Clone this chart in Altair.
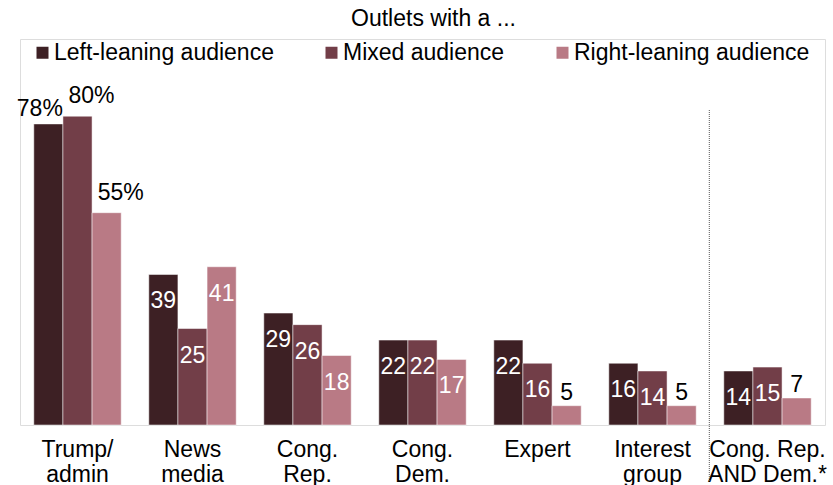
import json
import altair as alt
import pandas as pd

FONT = "Liberation Sans"

categories = ["Trump/admin", "News media", "Cong. Rep.", "Cong. Dem.", "Expert",
              "Interest group", "Cong. Rep. AND Dem.*"]
label_lines = [["Trump/", "admin"], ["News", "media"], ["Cong.", "Rep."], ["Cong.", "Dem."],
               ["Expert"], ["Interest", "group"], ["Cong. Rep.", "AND Dem.*"]]
audiences = ["Left-leaning audience", "Mixed audience", "Right-leaning audience"]
left_vals = [78, 39, 29, 22, 22, 16, 14]
mixed_vals = [80, 25, 26, 22, 16, 14, 15]
right_vals = [55, 41, 18, 17, 5, 5, 7]
colors = ["#3d2024", "#723e48", "#b97a85"]

rows = []
for ai, (aud, vals) in enumerate(zip(audiences, [left_vals, mixed_vals, right_vals])):
    for ci, (cat, v) in enumerate(zip(categories, vals)):
        rows.append({"cat": cat, "aud": aud, "val": v, "ci": ci, "ai": ai,
                     "label": f"{v}%" if ci == 0 else str(v)})
df = pd.DataFrame(rows)

label_expr = f"{json.dumps(label_lines)}[indexof({json.dumps(categories)}, datum.value)]"

xscale = alt.Scale(domain=categories, paddingInner=0.24, paddingOuter=0.12)
x_enc = alt.X("cat:N", sort=categories, scale=xscale,
              axis=alt.Axis(title=None, domain=False, ticks=False, grid=False, labelAngle=0,
                            labelFontSize=23, labelFont=FONT, labelColor="black",
                            labelPadding=13, labelLineHeight=25, labelExpr=label_expr,
                            labelLimit=0))
xoff = alt.XOffset("aud:N", sort=audiences, scale=alt.Scale(domain=audiences, paddingInner=0, paddingOuter=0))
yscale = alt.Scale(domain=[0, 100])

base = alt.Chart(df).encode(x=x_enc, xOffset=xoff,
                            y=alt.Y("val:Q", scale=yscale, axis=None))

bars = base.mark_bar(stroke="white", strokeWidth=0.5).encode(
    color=alt.Color("aud:N", sort=audiences,
                    scale=alt.Scale(domain=audiences, range=colors),
                    legend=alt.Legend(title=None, orient="none", legendX=11, legendY=2,
                                      direction="horizontal", symbolType="square",
                                      symbolSize=144, symbolStrokeWidth=0, symbolOpacity=1,
                                      labelFontSize=23, labelFont=FONT, labelColor="black",
                                      columnPadding=46, labelOffset=0, padding=0,
                                      labelLimit=0, strokeColor="transparent"))
)

txt = dict(fontSize=23, font=FONT)
inside = base.mark_text(color="white", baseline="top", dy=16, **txt).encode(
    text="label:N").transform_filter("datum.val >= 10 && datum.ci > 0")
small = base.mark_text(color="black", baseline="alphabetic", dy=-6, **txt).encode(
    text="label:N").transform_filter("datum.val < 10 && datum.ci > 0")
trump_left = base.mark_text(color="black", baseline="alphabetic", align="right",
                            dx=14.5, dy=-8, **txt).encode(
    text="label:N").transform_filter("datum.ci == 0 && datum.ai == 0")
trump_other = base.mark_text(color="black", baseline="alphabetic", align="left",
                             dx=-9, dy=-13, **txt).encode(
    text="label:N").transform_filter("datum.ci == 0 && datum.ai > 0")

sep = alt.Chart(pd.DataFrame({"cat": [categories[-1]]})).mark_rule(
    color="#555555", strokeWidth=1, strokeDash=[1, 1], xOffset=-14.5).encode(
    x=alt.X("cat:N", sort=categories, scale=xscale, bandPosition=0),
    y=alt.value(71), y2=alt.value(443))

chart = alt.layer(bars, inside, small, trump_left, trump_other, sep).properties(
    width=805, height=386,
    title=alt.TitleParams("Outlets with a ...", fontSize=23, font=FONT, fontWeight="normal",
                          color="black", anchor="middle", dx=11, offset=8),
    autosize=alt.AutoSizeParams(type="none"),
    padding={"left": 20, "top": 39, "right": 8, "bottom": 60},
).configure_view(strokeWidth=0, stroke="transparent", fill="white").configure(background="white")

chart.save("out.html", embed_options={"renderer": "svg", "actions": False})
